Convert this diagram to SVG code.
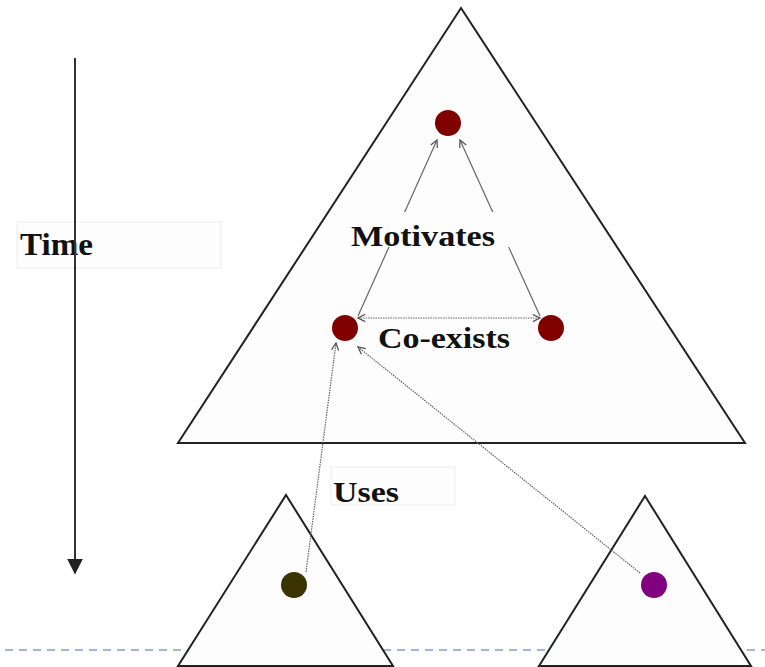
<svg xmlns="http://www.w3.org/2000/svg" width="765" height="667" viewBox="0 0 765 667">
  <style>
    .tri { fill: #fdfdfd; stroke: #222; stroke-width: 2; stroke-linejoin: miter; }
    .lbl { font-family: "Liberation Serif", "Times New Roman", serif; font-weight: bold; font-size: 30px; fill: #111; }
    .box { fill: #fdfdfd; stroke: #ececec; stroke-width: 1; }
    .link { stroke: #666; stroke-width: 1.2; fill: none; }
    .dot { stroke-dasharray: 1.5 1; }
    .node { stroke: none; }
  </style>
  <defs>
    <marker id="open" viewBox="0 0 10 10" refX="9" refY="5" markerWidth="9" markerHeight="9" markerUnits="userSpaceOnUse" orient="auto-start-reverse">
      <path d="M1,1 L9,5 L1,9" fill="none" stroke="#555" stroke-width="1.4"/>
    </marker>
    <marker id="solid" viewBox="0 0 10 10" refX="9" refY="5" markerWidth="16" markerHeight="16" markerUnits="userSpaceOnUse" orient="auto">
      <path d="M0,0 L10,5 L0,10 Z" fill="#222"/>
    </marker>
  </defs>

  <rect width="765" height="667" fill="#ffffff"/>

  <!-- baseline -->
  <line x1="5" y1="650" x2="765" y2="650" stroke="#a3b8cf" stroke-width="2" stroke-dasharray="8 6"/>

  <!-- time axis -->
  <g id="time-axis">
    <rect class="box" x="17" y="222" width="204" height="46"/>
    <text class="lbl" x="20" y="255" style="font-size:32px" textLength="73" lengthAdjust="spacingAndGlyphs">Time</text>
    <line x1="75" y1="58" x2="75" y2="573" stroke="#333" stroke-width="2" marker-end="url(#solid)"/>
  </g>

  <!-- containers -->
  <g id="big-triangle"><polygon class="tri" points="461,8 745,443 178,443"/></g>
  <g id="left-triangle"><polygon class="tri" points="286,495 393,666 178,666"/></g>
  <g id="right-triangle"><polygon class="tri" points="645,496 751,666 539,666"/></g>

  <!-- connectors -->
  <g id="connectors">
    <line class="link" x1="358" y1="316" x2="437" y2="140" marker-end="url(#open)"/>
    <line class="link" x1="540" y1="316" x2="460" y2="140" marker-end="url(#open)"/>
    <line class="link dot" x1="358" y1="318" x2="540" y2="318" marker-start="url(#open)" marker-end="url(#open)"/>
    <line class="link dot" x1="306" y1="572" x2="336" y2="343" marker-end="url(#open)"/>
    <line class="link dot" x1="640" y1="573" x2="358" y2="347" marker-end="url(#open)"/>
  </g>

  <!-- labels -->
  <g id="label-motivates">
    <rect x="345" y="212" width="170" height="35" fill="#fdfdfd"/>
    <text class="lbl" x="351" y="246" textLength="144" lengthAdjust="spacingAndGlyphs">Motivates</text>
  </g>
  <g id="label-coexists">
    <text class="lbl" x="378" y="348" textLength="132" lengthAdjust="spacingAndGlyphs">Co-exists</text>
  </g>
  <g id="label-uses">
    <rect class="box" x="331" y="467" width="124" height="38"/>
    <text class="lbl" x="333" y="502" textLength="66" lengthAdjust="spacingAndGlyphs">Uses</text>
  </g>

  <!-- nodes -->
  <g id="node-top"><circle class="node" cx="448" cy="123" r="13" fill="#800000"/></g>
  <g id="node-left"><circle class="node" cx="345" cy="328" r="13" fill="#800000"/></g>
  <g id="node-right"><circle class="node" cx="551" cy="328" r="13" fill="#800000"/></g>
  <g id="node-bottom-left"><circle class="node" cx="294" cy="585" r="13" fill="#3b3300"/></g>
  <g id="node-bottom-right"><circle class="node" cx="654" cy="585" r="13" fill="#800080"/></g>
</svg>
